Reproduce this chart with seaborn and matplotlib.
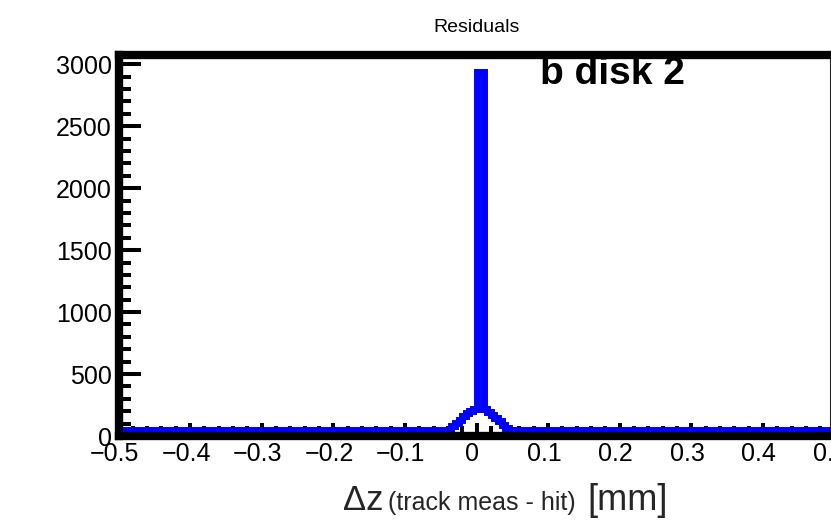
import numpy as np
import pandas as pd
import matplotlib
matplotlib.use("Agg")
import matplotlib.pyplot as plt
from matplotlib.ticker import MultipleLocator, FixedLocator
from matplotlib.transforms import ScaledTranslation
import seaborn as sns

# Histogram binning: 200 bins of 0.005 mm over [-0.5, 0.5]
x_range = (-0.5, 0.5)
n_bins = 200
background = 50  # flat tail content per bin

# Central region, bin contents starting at the bin with lower edge core_start
core_start = -0.035
core_counts = [80, 106, 133, 160, 187, 205, 220, 2940, 2940,
               220, 195, 170, 145, 118, 90, 65]

x_ticks = [-0.5, -0.4, -0.3, -0.2, -0.1, 0, 0.1, 0.2, 0.3, 0.4, 0.5]
x_tick_labels = ["\u22120.5", "\u22120.4", "\u22120.3", "\u22120.2", "\u22120.1",
                 "0", "0.1", "0.2", "0.3", "0.4", "0.5"]
y_ticks = [0, 500, 1000, 1500, 2000, 2500, 3000]
y_max = 3075

edges = np.linspace(x_range[0], x_range[1], n_bins + 1)
centers = 0.5 * (edges[:-1] + edges[1:])
counts = np.full(n_bins, float(background))
i0 = int(round((core_start - x_range[0]) / (edges[1] - edges[0])))
counts[i0:i0 + len(core_counts)] = core_counts
df = pd.DataFrame({"dz": centers, "n": counts})

sns.set_theme(style="white")
plt.rcParams["font.family"] = ["Liberation Sans", "DejaVu Sans"]
plt.rcParams["xtick.minor.visible"] = True
plt.rcParams["ytick.minor.visible"] = True
plt.rcParams["xtick.bottom"] = True
plt.rcParams["xtick.minor.bottom"] = True
plt.rcParams["ytick.left"] = True
plt.rcParams["ytick.minor.left"] = True

W, H = 831, 524
fig = plt.figure(figsize=(W / 100, H / 100), dpi=100)
left, right, top, bottom = 118.5, 834.5, 55, 436
ax = fig.add_axes([left / W, 1 - bottom / H, (right - left) / W, (bottom - top) / H])

sns.histplot(data=df, x="dz", weights="n", bins=n_bins, binrange=x_range,
             element="step", fill=False, color="#0000ff", linewidth=5.0,
             solid_joinstyle="miter", solid_capstyle="butt", zorder=1, ax=ax)

ax.set_xlim(*x_range)
ax.set_ylim(0, y_max)
ax.set_xlabel("")
ax.set_ylabel("")

ax.xaxis.set_major_locator(FixedLocator(x_ticks))
ax.set_xticklabels(x_tick_labels)
ax.xaxis.set_minor_locator(MultipleLocator(0.02))
ax.yaxis.set_major_locator(FixedLocator(y_ticks))
ax.yaxis.set_minor_locator(MultipleLocator(100))

ax.tick_params(axis="x", which="major", direction="in", length=9.5, width=2.9,
               color="black", labelsize=18, pad=4, labelcolor="black",
               bottom=True, top=False)
ax.tick_params(axis="x", which="minor", direction="in", length=7.5, width=2.9,
               color="black", bottom=True, top=False)
ax.tick_params(axis="y", which="major", direction="in", length=15.8, width=2.9,
               color="black", labelsize=18, pad=5, labelcolor="black",
               left=True, right=False)
ax.tick_params(axis="y", which="minor", direction="in", length=8.4, width=2.9,
               color="black", left=True, right=False)

# labels sit slightly left of their ticks
shift = ScaledTranslation(-4 / 100, 0, fig.dpi_scale_trans)
for lab in ax.get_xticklabels():
    lab.set_transform(lab.get_transform() + shift)

for side in ("left", "bottom", "top"):
    ax.spines[side].set_visible(True)
    ax.spines[side].set_color("black")
    ax.spines[side].set_linewidth(6)
ax.spines["right"].set_visible(True)
ax.spines["right"].set_color("#222222")
ax.spines["right"].set_linewidth(0.8)
ax.spines["right"].set_position(("axes", (829.5 - left) / (right - left)))

fig.text(476.5 / W, 1 - 27 / H, "Residuals", ha="center", va="center",
         fontsize=14, color="black")
fig.text(540 / W, 1 - 74 / H, "b disk 2", ha="left", va="center",
         fontsize=28, fontweight="bold", color="black")

base_y = 1 - 510 / H
fig.text(343 / W, base_y, "\u0394z", ha="left", va="baseline", fontsize=25)
fig.text(388 / W, base_y, "(track meas - hit)", ha="left", va="baseline", fontsize=18)
fig.text(587 / W, base_y, "[mm]", ha="left", va="baseline", fontsize=26)

fig.savefig("out.png", dpi=100)
